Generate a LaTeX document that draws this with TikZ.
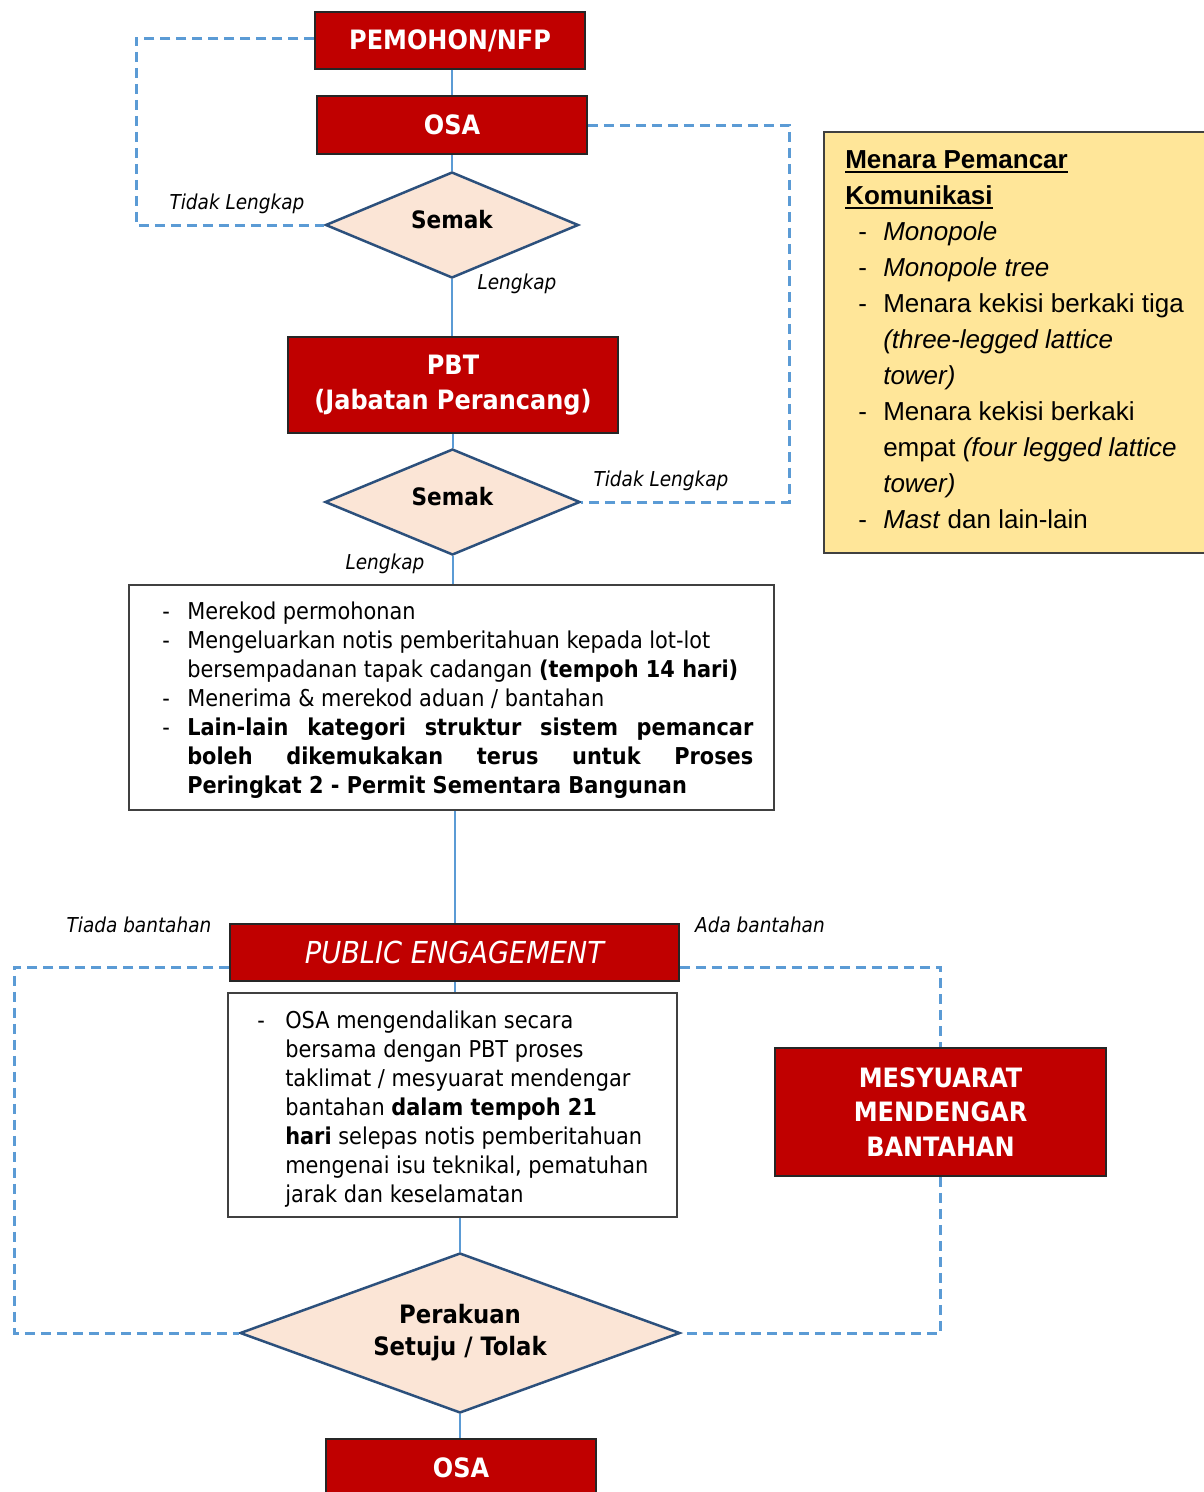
\documentclass[tikz,border=0pt]{standalone}
\usepackage{fontspec}
\setmainfont{DejaVu Sans Condensed}[BoldFont={DejaVu Sans Condensed Bold},ItalicFont={DejaVu Sans Condensed Oblique},BoldItalicFont={DejaVu Sans Condensed Bold Oblique}]
\newfontfamily\notefont{Liberation Sans}
\usetikzlibrary{shapes.geometric}
\newdimen\upx \upx=0.75pt
\definecolor{boxred}{RGB}{192,0,0}
\definecolor{linkblue}{RGB}{91,155,213}
\definecolor{diafill}{RGB}{251,229,214}
\definecolor{diaedge}{RGB}{44,80,124}
\definecolor{notefill}{RGB}{255,230,153}
\definecolor{framegray}{RGB}{64,64,64}
\newcommand{\thickul}[1]{\setbox0\hbox{#1}\rlap{\rule[-5\upx]{\wd0}{2\upx}}\box0}
\newcommand{\dashitem}[1]{\noindent\llap{\makebox[#1][l]{\mdseries-}}}

\tikzset{
  redbox/.style={draw=black!85, line width=1.5\upx, fill=boxred, text=white,
    font=\bfseries\fontsize{20pt}{26pt}\selectfont, align=center, inner sep=0pt},
  check/.style={diamond, draw=diaedge, line width=2.5\upx, fill=diafill, inner sep=0pt,
    font=\bfseries\fontsize{18pt}{24pt}\selectfont, align=center},
  frame/.style={draw=framegray, line width=1.5\upx, fill=white, inner sep=0pt},
  link/.style={draw=linkblue, line width=2\upx},
  loop/.style={draw=linkblue, line width=3\upx, dash pattern=on 10\upx off 6\upx},
  tag/.style={font=\itshape\fontsize{15.4pt}{18pt}\selectfont, inner sep=0pt},
  bodytext/.style={inner sep=0pt, anchor=base west, font=\fontsize{17.4pt}{21.75pt}\selectfont},
}

\begin{document}
\begin{tikzpicture}[x=0.75pt, y=-0.75pt]
\useasboundingbox (0,0) rectangle (1203,1492);

% side note on tower types
\node[draw=framegray, fill=notefill, line width=1.5\upx, inner sep=0pt,
      minimum width=390\upx, minimum height=421\upx] (note) at (1019,342.5) {};
\node[inner sep=0pt, anchor=base west, font=\notefont\fontsize{19.5pt}{27pt}\selectfont] (notetext) at (845,168)
{\begin{minipage}[t]{355\upx}\setlength{\parindent}{0pt}\raggedright
\textbf{\thickul{Menara Pemancar}}\\
\textbf{\thickul{Komunikasi}}\\
\hspace*{13\upx}\makebox[25\upx][l]{-}\textit{Monopole}\\
\hspace*{13\upx}\makebox[25\upx][l]{-}\textit{Monopole tree}\\
\hspace*{13\upx}\makebox[25\upx][l]{-}Menara kekisi berkaki tiga\\
\hspace*{38\upx}\textit{(three-legged lattice}\\
\hspace*{38\upx}\textit{tower)}\\
\hspace*{13\upx}\makebox[25\upx][l]{-}Menara kekisi berkaki\\
\hspace*{38\upx}empat \textit{(four legged lattice}\\
\hspace*{38\upx}\textit{tower)}\\
\hspace*{13\upx}\makebox[25\upx][l]{-}\textit{Mast} dan lain-lain
\end{minipage}};

% main flow
\node[redbox, minimum width=270\upx, minimum height=57\upx] (nfp) at (450,40.5) {PEMOHON/NFP};
\node[redbox, minimum width=270\upx, minimum height=58\upx] (osa1) at (452,125) {OSA};
\node[check, text depth=11\upx, minimum width=253\upx, minimum height=106\upx, shape aspect=2.4] (semak1) at (452,225) {Semak};
\node[redbox, minimum width=330\upx, minimum height=96\upx] (pbt) at (453,385) {PBT\\(Jabatan Perancang)};
\node[check, text depth=11\upx, minimum width=255\upx, minimum height=106\upx, shape aspect=2.4] (semak2) at (452.5,502) {Semak};

\node[frame, minimum width=645\upx, minimum height=225\upx] (tasks) at (451.5,697.5) {};
\node[bodytext] (taskstext) at (162,619)
{\begin{minipage}[t]{591\upx}\setlength{\parindent}{0pt}
\hyphenpenalty=10000
{\raggedright\leftskip=25\upx
\dashitem{25\upx}Merekod permohonan\par
\dashitem{25\upx}Mengeluarkan notis pemberitahuan kepada lot-lot\\
bersempadanan tapak cadangan \textbf{(tempoh 14 hari)}\par
\dashitem{25\upx}Menerima \& merekod aduan / bantahan\par}
{\leftskip=25\upx\bfseries\dashitem{25\upx}Lain-lain kategori struktur sistem pemancar\linebreak
boleh dikemukakan terus untuk Proses\linebreak
Peringkat 2 - Permit Sementara Bangunan\par}
\end{minipage}};

\node[redbox, font=\itshape\fontsize{22.7pt}{26pt}\selectfont, minimum width=449\upx, minimum height=57\upx] (pe) at (454.5,952.5) {PUBLIC ENGAGEMENT};

\node[frame, minimum width=449\upx, minimum height=224\upx] (hearingnote) at (452.5,1105) {};
\node[bodytext] (hearingtext) at (257,1028)
{\begin{minipage}[t]{420\upx}\setlength{\parindent}{0pt}\raggedright\leftskip=28\upx
\dashitem{28\upx}OSA mengendalikan secara\\
bersama dengan PBT proses\\
taklimat / mesyuarat mendengar\\
bantahan \textbf{dalam tempoh 21}\\
\textbf{hari} selepas notis pemberitahuan\\
mengenai isu teknikal, pematuhan\\
jarak dan keselamatan
\end{minipage}};

\node[check, font=\bfseries\fontsize{19pt}{24pt}\selectfont, minimum width=440\upx, minimum height=160\upx, shape aspect=2.75] (verdict) at (460,1333) {Perakuan\\Setuju / Tolak};
\node[redbox, minimum width=331\upx, minimum height=128\upx] (hearing) at (940.5,1112) {MESYUARAT\\MENDENGAR\\BANTAHAN};
\node[redbox, minimum width=270\upx, minimum height=58\upx] (osa2) at (461,1468) {OSA};

% branch labels
\node[tag] (t1) at (237,204) {Tidak Lengkap};
\node[tag] (t2) at (517,284) {Lengkap};
\node[tag] (t3) at (661,481) {Tidak Lengkap};
\node[tag] (t4) at (385,564) {Lengkap};
\node[tag] (t5) at (139,925) {Tiada bantahan};
\node[tag] (t6) at (760,925) {Ada bantahan};

% solid links
\draw[link] (osa1.north |- nfp.south) -- (osa1.north);
\draw[link] (osa1.south) -- (semak1.north);
\draw[link] (semak1.south) -- (semak1.south |- pbt.north);
\draw[link] (semak2.north |- pbt.south) -- (semak2.north);
\draw[link] (semak2.south) -- (semak2.south |- tasks.north);
\draw[link] (pe.north |- tasks.south) -- (pe.north);
\draw[link] (pe.south) -- (pe.south |- hearingnote.north);
\draw[link] (verdict.north |- hearingnote.south) -- (verdict.north);
\draw[link] (verdict.south) -- (verdict.south |- osa2.north);

% dashed return loops
\coordinate (lx) at (136,0);
\coordinate (rx) at (789,0);
\coordinate (px) at (14,0);
\coordinate (ty) at (0,38);
\coordinate (ly) at (0,967);
\draw[loop] (nfp.west |- ty) -- (lx |- ty) |- (semak1.west);
\draw[loop] (osa1.east) -- (osa1.east -| rx) |- (semak2.east);
\draw[loop] (pe.west |- ly) -- (px |- ly) |- (verdict.west);
\draw[loop] (pe.east |- ly) -| (hearing.north);
\draw[loop] (hearing.south) |- (verdict.east);
\end{tikzpicture}
\end{document}
